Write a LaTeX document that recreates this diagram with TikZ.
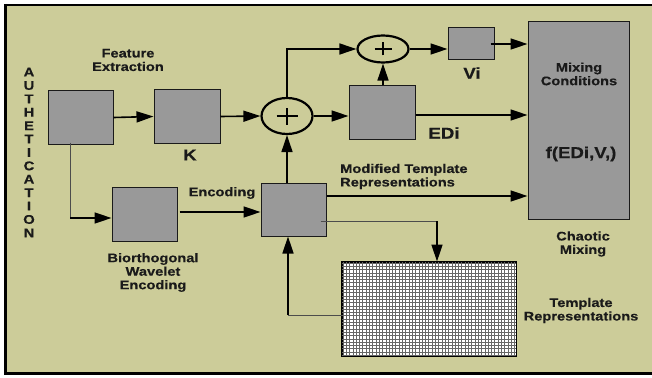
\documentclass[tikz,border=0pt]{standalone}
\usepackage{fontspec}
\setsansfont{Liberation Sans}[FakeStretch=1.18, BoldFeatures={FakeBold=0.4}]
\usetikzlibrary{shapes.geometric,arrows.meta}
\definecolor{panel}{HTML}{CCCC99}
\definecolor{blockgray}{HTML}{999999}
\definecolor{inkdark}{HTML}{1A1A1A}
\tikzset{
  blk/.style={draw=inkdark, line width=1pt, fill=blockgray, inner sep=0pt},
  sumnode/.style={ellipse, draw=black, line width=2.2pt, fill=panel, inner sep=0pt},
  arr/.style={draw=black, line width=1.6pt, -{Triangle[length=17pt,width=11pt]}},
  thinline/.style={draw=black!70, line width=1pt},
  hatch/.style={black!60, line width=0.75pt},
  lbl/.style={font=\sffamily\bfseries\fontsize{12.4}{13.5}\selectfont, text=inkdark, align=center, inner sep=0pt},
  biglbl/.style={lbl, font=\sffamily\bfseries\fontsize{15.8}{17}\selectfont},
}
\newcommand{\plusmark}[3]{% centre name, half width, half height
  \draw[line width=2pt] ([xshift=-#2]#1.center) -- ([xshift=#2]#1.center);
  \draw[line width=2pt] ([yshift=-#3]#1.center) -- ([yshift=#3]#1.center);
}
\begin{document}
\begin{tikzpicture}[x=1pt, y=-1pt]
\useasboundingbox (0,0) rectangle (652,377);
% panel and its frame
\fill[panel] (5,5) rectangle (652,373);
\draw[line width=2pt] (652,5) -- (5.5,5);
\draw[line width=3pt] (5.5,4) -- (5.5,373) -- (652,373);

% blocks
\node[blk, minimum width=65pt, minimum height=53pt] (fx) at (80.5,117.5) {};
\node[blk, minimum width=66pt, minimum height=53pt] (kb) at (187,116.5) {};
\node[sumnode, minimum width=51pt, minimum height=36pt] (s1) at (287,116) {};
\node[sumnode, minimum width=51pt, minimum height=27pt] (s2) at (383,49) {};
\node[blk, minimum width=46pt, minimum height=32pt] (vi) at (471,44) {};
\node[blk, minimum width=101pt, minimum height=197pt] (mix) at (578.5,120.5) {};
\node[blk, minimum width=66pt, minimum height=53pt] (edi) at (382,112.5) {};
\node[blk, minimum width=65pt, minimum height=53pt] (enc) at (293.5,209.5) {};
\node[blk, minimum width=65pt, minimum height=54pt] (bwe) at (144.5,214) {};
\node[draw=black, line width=1pt, fill=white, minimum width=174pt, minimum height=94pt, inner sep=0pt] (tpl) at (429,309) {};

% cross-hatched template store
\begin{scope}
  \clip (tpl.south west) rectangle (tpl.north east);
  \foreach \i in {0,...,53} {
    \draw[hatch] ([xshift=\i*3.3pt+1.5pt]tpl.north west) -- ([xshift=\i*3.3pt+1.5pt]tpl.south west);
  }
  \foreach \j in {0,...,29} {
    \draw[hatch] ([yshift=-\j*3.3pt-1.5pt]tpl.north west) -- ([yshift=-\j*3.3pt-1.5pt]tpl.north east);
  }
\end{scope}
\draw[line width=1pt] (tpl.south west) rectangle (tpl.north east);

% plus signs in the summing junctions
\plusmark{s1}{10.5pt}{8.5pt}
\plusmark{s2}{8.5pt}{6.5pt}

% connectors
\draw[arr] (fx.east) -- (kb.west);
\draw[arr] (kb.east) -- (s1.west);
\draw[arr] (s1.north) |- (s2.west);
\draw[arr] (s2.east) -- (s2.east -| vi.west);
\draw[arr] ([xshift=-4pt]vi.east) -- (vi.east -| mix.west);
\draw[arr] (s1.east) -- (s1.east -| edi.west);
\draw[arr] (edi.north -| s2.south) -- (s2.south);
\draw[arr] ([yshift=-2.5pt]edi.east) -- ([yshift=-2.5pt]edi.east -| mix.west);
\draw[arr] (enc.north -| s1.south) -- (s1.south);
\coordinate (encout) at ([yshift=13.5pt]enc.east);
\draw[arr] (encout) -- (encout -| mix.west);
% encoder to template store
\coordinate (tapin) at ([xshift=-6pt,yshift=-11.5pt]enc.east);
\coordinate (tapturn) at (tapin -| 437,0);
\draw[thinline] (tapin) -- (tapturn);
\draw[arr] (tapturn) -- (tapturn |- tpl.north);
% template store back to encoder
\coordinate (retout) at ([yshift=-6pt]tpl.west);
\coordinate (retturn) at (retout -| 288,0);
\draw[thinline] (retout) -- (retturn);
\draw[arr] (retturn) -- (retturn |- enc.south);
% feature block down to wavelet encoding
\coordinate (fxtap) at ([xshift=-10.5pt,yshift=2pt]fx.south);
\coordinate (fxturn) at (fxtap |- bwe.west);
\draw[thinline] (fxtap) -- ([yshift=-4pt]fxturn);
\draw[arr] ([yshift=-4pt]fxturn) -- ([yshift=-4pt]bwe.west);
\draw[arr] ([xshift=2pt,yshift=2pt]bwe.east) -- ([yshift=2pt]bwe.east -| enc.west);

% labels
\node[lbl] (tfx) at (128,60) {Feature\\Extraction};
\node[biglbl] (tk) at (190,155) {K};
\node[lbl] (tenc) at (222,193) {Encoding};
\node[lbl] (tbwe) at (153,272.5) {Biorthogonal\\Wavelet\\Encoding};
\node[lbl, anchor=west, align=left] (tmod) at (340,176.5) {Modified Template\\Representations};
\node[biglbl] (tedi) at (444,133) {EDi};
\node[biglbl] (tvi) at (472,73) {Vi};
\node[lbl] (tmc) at (579,74) {Mixing\\Conditions};
\node[biglbl] (tf) at (581,154) {f(EDi,V,)};
\node[lbl] (tcm) at (583,244) {Chaotic\\Mixing};
\node[lbl] (ttr) at (581,310.5) {Template\\Representations};
\node[lbl, font=\sffamily\bfseries\fontsize{12.6}{13.4}\selectfont] (tauth) at (29,152.5)
  {A\\U\\T\\H\\E\\T\\I\\C\\A\\T\\I\\O\\N};
\end{tikzpicture}
\end{document}
